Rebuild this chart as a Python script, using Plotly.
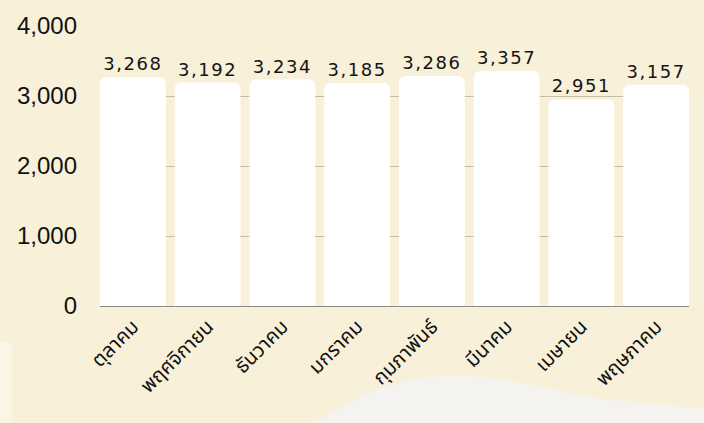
import plotly.graph_objects as go

months = ["ตุลาคม", "พฤศจิกายน", "ธันวาคม", "มกราคม", "กุมภาพันธ์", "มีนาคม", "เมษายน", "พฤษภาคม"]
values = [3268, 3192, 3234, 3185, 3286, 3357, 2951, 3157]
y_ticks = [0, 1000, 2000, 3000, 4000]
y_tick_labels = ["0", "1,000", "2,000", "3,000", "4,000"]

fig = go.Figure()
fig.add_trace(go.Bar(
    x=months, y=values,
    marker=dict(color="#ffffff", line=dict(width=0), cornerradius=6),
    text=[f"{v:,}" for v in values],
    textposition="outside",
    textfont=dict(family="DejaVu Sans", size=18, color="#141414"),
    cliponaxis=False,
))

# decorative background shapes
fig.add_shape(type="rect", xref="paper", yref="paper",
              x0=-0.2, x1=-0.15, y0=-0.42, y1=-0.13,
              fillcolor="#faf5e5", line=dict(width=0), layer="below")
fig.add_shape(type="path", xref="paper", yref="paper",
              path="M 0.36 -0.42 C 0.43 -0.33, 0.50 -0.25, 0.60 -0.248 C 0.70 -0.25, 0.75 -0.30, 0.85 -0.33 C 0.93 -0.35, 1.0 -0.36, 1.03 -0.365 L 1.03 -0.42 Z",
              fillcolor="#f4f3f0", line=dict(width=0), layer="below")

fig.update_layout(
    width=704, height=423,
    margin=dict(l=100, r=15, t=20, b=117),
    paper_bgcolor="#f8f0d8",
    plot_bgcolor="rgba(0,0,0,0)",
    bargap=0.12,
    showlegend=False,
    font=dict(family="Noto Sans Thai, Noto Sans Thai UI, Noto Sans, DejaVu Sans", color="#111111"),
    xaxis=dict(tickangle=-45, tickfont=dict(size=20, color="#111111"),
               range=[-0.44, 7.44],
               showline=True, linecolor="#8a8880", linewidth=1, ticks=""),
    yaxis=dict(range=[0, 4000], tickvals=y_ticks, ticktext=y_tick_labels,
               tickfont=dict(size=24, family="Liberation Sans, Arial", color="#111111"),
               showgrid=True, gridcolor="#c4bca4", gridwidth=1, zeroline=False,
               ticklabelstandoff=22),
)

post = """
document.body.style.margin='0';
document.querySelectorAll('.bartext text, text.bartext').forEach(function(t){t.style.letterSpacing='1.5px';});
"""
fig.write_html("out.html", config={"displayModeBar": False}, post_script=post)
